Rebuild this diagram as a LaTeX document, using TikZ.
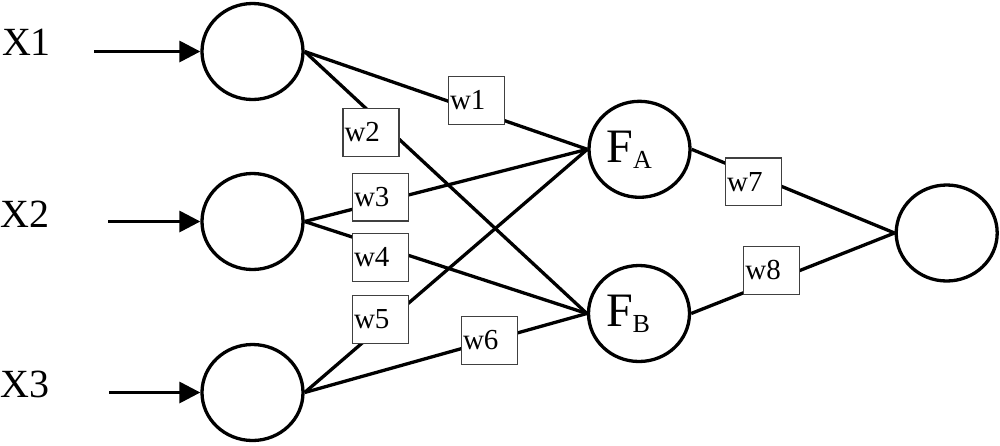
\documentclass[tikz,border=0pt]{standalone}
\usepackage{fontspec}
\setmainfont{Liberation Serif}
\usetikzlibrary{shapes.geometric,arrows.meta}
\begin{document}
\begin{tikzpicture}[x=1pt,y=-1pt,
  neuron/.style={ellipse,draw,line width=3.3pt,minimum width=101pt,minimum height=96pt,inner sep=0pt},
  wbox/.style={draw=black!75,line width=1.3pt,fill=white,text width=53pt,align=left,
    inner xsep=1.5pt,inner ysep=0pt,minimum height=47.7pt,font=\fontsize{29}{31}\selectfont},
  xlabel/.style={inner sep=0pt,font=\fontsize{40}{42}\selectfont},
  conn/.style={line width=3.3pt},
  inarrow/.style={line width=3.3pt,-{Triangle[length=21pt,width=21pt]}},
  flabel/.style={font=\fontsize{48}{52}\selectfont}
]
\useasboundingbox (0,0) rectangle (1000,445);

% neurons
\node[neuron] (in1) at (252.5,51.5) {};
\node[neuron] (in2) at (252.5,221.5) {};
\node[neuron] (in3) at (252.5,392.5) {};
\node[neuron,flabel] (fa) at (639.5,149.3) {\makebox[66pt][l]{F\raisebox{-6pt}{\fontsize{26}{27}\selectfont A}}};
\node[neuron,flabel] (fb) at (639,313.5) {\makebox[66pt][l]{F\raisebox{-6pt}{\fontsize{26}{27}\selectfont B}}};
\node[neuron] (out) at (946.7,233) {};

% input labels
\node[xlabel] (x1) at (26.5,42.5) {X1};
\node[xlabel] (x2) at (25,214) {X2};
\node[xlabel] (x3) at (25,384) {X3};

% input arrows
\coordinate (s1) at (94,51.5);
\coordinate (s2) at (108,221.5);
\coordinate (s3) at (109,392.5);
\draw[inarrow] (s1) -- (in1.west);
\draw[inarrow] (s2) -- (in2.west);
\draw[inarrow] (s3) -- (in3.west);

% connections
\draw[conn] (in1.east) -- (fa.west);
\draw[conn] (in1.east) -- (fb.west);
\draw[conn] (in2.east) -- (fa.west);
\draw[conn] (in2.east) -- (fb.west);
\draw[conn] (in3.east) -- (fa.west);
\draw[conn] (in3.east) -- (fb.west);
\draw[conn] (fa.east) -- (out.west);
\draw[conn] (fb.east) -- (out.west);

% weight boxes
\node[wbox] (w1) at (476.5,100.5) {w1};
\node[wbox] (w2) at (371,132.5) {w2};
\node[wbox] (w3) at (380.5,197) {w3};
\node[wbox] (w4) at (380.5,257.5) {w4};
\node[wbox] (w5) at (380.5,319.5) {w5};
\node[wbox] (w6) at (489.5,340.5) {w6};
\node[wbox] (w7) at (753.7,181.8) {w7};
\node[wbox] (w8) at (771.8,270.3) {w8};
\end{tikzpicture}
\end{document}
